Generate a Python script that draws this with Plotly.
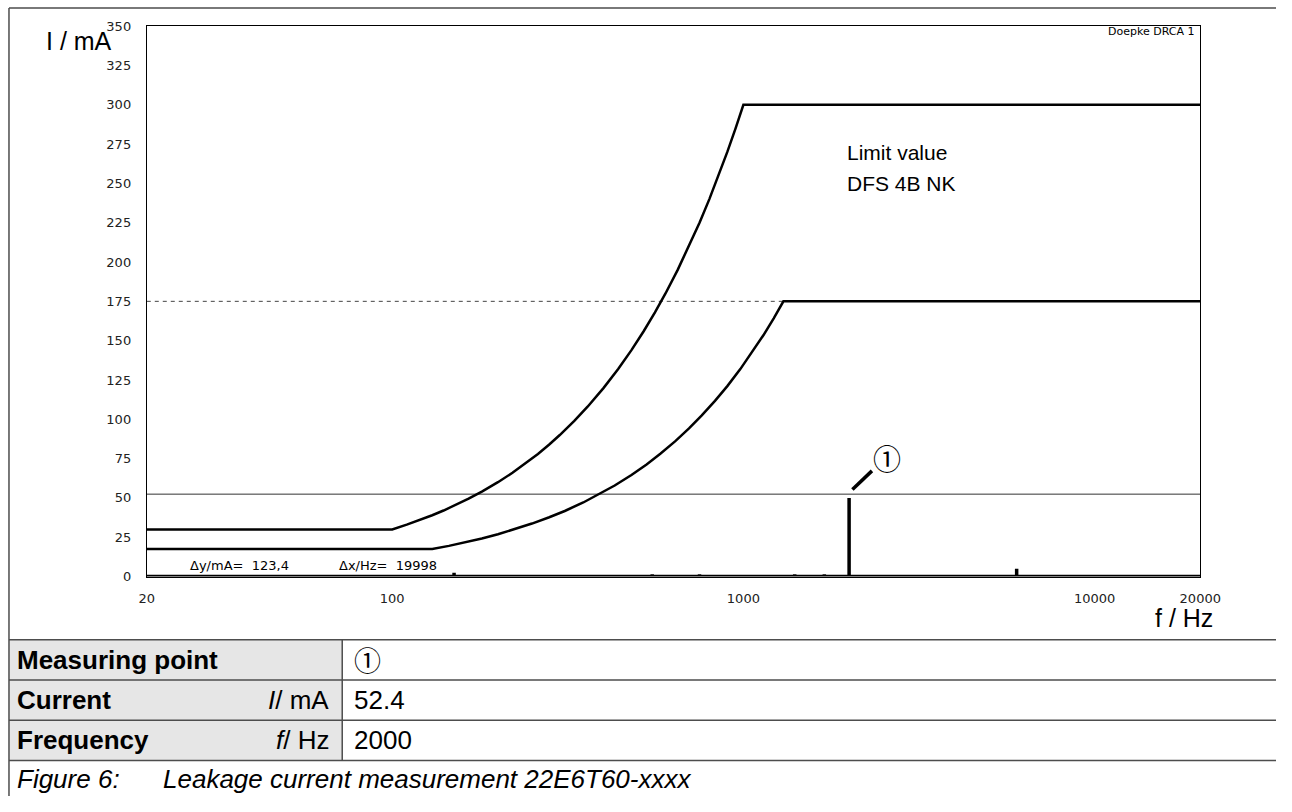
import math
import plotly.graph_objects as go

# page (window) size; the page keeps its default 8px body margin, so the figure is
# made 16px smaller and every position below is given in page pixels.
PW, PH = 1292, 812
OFF = 8
W, H = PW - 2 * OFF, PH - 2 * OFF

# ---------------- data ----------------
x_ticks = [20, 100, 1000, 10000, 20000]
y_ticks = [0, 25, 50, 75, 100, 125, 150, 175, 200, 225, 250, 275, 300, 325, 350]

limit_upper_f = [20, 100, 110, 120, 130, 140, 150, 165, 180, 200, 220, 240, 260, 280, 300, 330, 360, 400,
                 440, 480, 520, 560, 600, 650, 700, 750, 800, 850, 900, 950, 1000, 20000]
limit_upper_i = [30, 30, 33, 36, 39, 42, 45, 49.5, 54, 60, 66, 72, 78, 84, 90, 99, 108, 120,
                 132, 144, 156, 168, 180, 195, 210, 225, 240, 255, 270, 285, 300, 300]

limit_lower_f = [20, 130, 145, 160, 180, 200, 225, 250, 280, 310, 350, 390, 430, 480, 530, 580, 640, 700,
                 760, 830, 900, 980, 1060, 1140, 1220, 1300, 20000]
limit_lower_i = [17.5, 17.5, 19.5, 21.5, 24.2, 26.9, 30.3, 33.7, 37.7, 41.7, 47.1, 52.5, 57.9, 64.6, 71.3, 78.1, 86.1, 94.2,
                 102.3, 111.7, 121.1, 131.9, 142.7, 153.4, 164.2, 175, 175]

ref175_f = [20, 1300]
ref175_i = [175, 175]

cursor_f = [20, 20000]
cursor_i = [52.4, 52.4]

peak_f = [50, 150, 550, 750, 1400, 1700, 2000, 6000, 10000]
peak_i = [1, 2.5, 1.5, 1.5, 1.5, 1.5, 50, 5, 1]

leader_f = [2044, 2323]
leader_i = [55.3, 67.2]
marker_label_f = 2560
marker_label_i = 75.3

table_labels = ["Measuring point", "Current", "Frequency"]
table_units = ["", "<i>I</i>/ mA", "<i>f</i>/ Hz"]
table_values = ["\u2460", "52.4", "2000"]
caption_num = "Figure 6:"
caption_text = "Leakage current measurement 22E6T60-xxxx"

# ---------------- helpers (page pixel -> paper fraction) ----------------
def X(px):
    return (px - OFF) / W

def Y(py):
    return 1 - (py - OFF) / H

# spectrum path: baseline with vertical spikes
spec_f = [20]
spec_i = [0]
for f, v in zip(peak_f, peak_i):
    spec_f += [f, f, f]
    spec_i += [0, v, 0]
spec_f.append(20000)
spec_i.append(0)

fig = go.Figure()
line_col = "#000000"
fig.add_trace(go.Scatter(x=ref175_f, y=ref175_i, mode="lines",
                         line=dict(color="#444444", width=1, dash="4px,4px"), hoverinfo="skip"))
fig.add_trace(go.Scatter(x=cursor_f, y=cursor_i, mode="lines",
                         line=dict(color="#333333", width=1), hoverinfo="skip"))
fig.add_trace(go.Scatter(x=limit_upper_f, y=limit_upper_i, mode="lines",
                         line=dict(color=line_col, width=2.5), hoverinfo="skip"))
fig.add_trace(go.Scatter(x=limit_lower_f, y=limit_lower_i, mode="lines",
                         line=dict(color=line_col, width=2.5), hoverinfo="skip"))
fig.add_trace(go.Scatter(x=spec_f, y=spec_i, mode="lines",
                         line=dict(color=line_col, width=3.5), hoverinfo="skip"))
fig.add_trace(go.Scatter(x=leader_f, y=leader_i, mode="lines",
                         line=dict(color=line_col, width=3.5), hoverinfo="skip"))

tick_font = dict(family="DejaVu Sans", size=13, color="#222222")

fig.update_xaxes(type="log", range=[math.log10(20), math.log10(20000)],
                 domain=[X(150), X(1228)],
                 tickvals=x_ticks, ticktext=[str(v) for v in x_ticks],
                 showgrid=False, zeroline=False, showline=True, mirror=True,
                 linecolor="#000000", linewidth=1, ticks="", tickfont=tick_font,
                 ticklabelstandoff=10)
fig.update_yaxes(range=[0, 350], domain=[Y(588.5), Y(27.5)],
                 tickvals=y_ticks, ticktext=[str(v) for v in y_ticks],
                 showgrid=False, zeroline=False, showline=True, mirror=True,
                 linecolor="#000000", linewidth=1, ticks="", tickfont=tick_font,
                 ticklabelstandoff=12)

shapes = []
border = dict(color="#4d4d4d", width=1.5)
# grey label column of the table
shapes.append(dict(type="rect", xref="paper", yref="paper", x0=X(9), x1=X(350), y0=Y(776), y1=Y(653),
                   fillcolor="#e6e6e6", line=dict(width=0), layer="below"))
# outer frame (left and top edges just inside the figure)
shapes.append(dict(type="line", xref="paper", yref="paper", x0=X(9), x1=X(9), y0=Y(9), y1=Y(830),
                   line=border))
shapes.append(dict(type="line", xref="paper", yref="paper", x0=X(9), x1=X(1310), y0=Y(9), y1=Y(9),
                   line=border))
for yy in [653, 694, 735, 776]:
    shapes.append(dict(type="line", xref="paper", yref="paper", x0=X(9), x1=X(1310), y0=Y(yy), y1=Y(yy),
                       line=border))
shapes.append(dict(type="line", xref="paper", yref="paper", x0=X(350), x1=X(350), y0=Y(653), y1=Y(776),
                   line=border))

ann = []
big = "Liberation Sans"
def txt(s, px, py, size, fam=big, xa="left"):
    return dict(text=s, x=X(px), y=Y(py), xref="paper", yref="paper", xanchor=xa, yanchor="middle",
                showarrow=False, font=dict(family=fam, size=size, color="#000"))

ann.append(txt("I / mA", 45, 43, 25))
ann.append(txt("f / Hz", 1243, 631, 25, xa="right"))
ann.append(txt("Doepke DRCA 1", 1224, 33, 11, fam="DejaVu Sans", xa="right"))
ann.append(txt("Limit value", 864, 156, 21))
ann.append(txt("DFS 4B NK", 864, 188, 21))
ann.append(txt("\u0394y/mA=  123,4", 192, 577, 13, fam="DejaVu Sans"))
ann.append(txt("\u0394x/Hz=  19998", 345, 577, 13, fam="DejaVu Sans"))
ann.append(dict(text="\u2460", x=math.log10(marker_label_f), y=marker_label_i, xref="x", yref="y",
                xanchor="center", yanchor="middle", showarrow=False,
                font=dict(family="Noto Sans CJK JP", size=28, color="#000")))

row_centers = [673.5, 714.5, 755.5]
for lab, unit, val, yc in zip(table_labels, table_units, table_values, row_centers):
    ann.append(txt("<b>%s</b>" % lab, 15, yc, 26))
    if unit:
        ann.append(txt(unit, 338, yc, 26, xa="right"))
    if val == "\u2460":
        ann.append(txt(val, 360, yc, 27, fam="Noto Sans CJK JP"))
    else:
        ann.append(txt(val, 360, yc, 26))
ann.append(txt("<i>%s</i>" % caption_num, 15, 795, 26))
ann.append(txt("<i>%s</i>" % caption_text, 165, 795, 26))

fig.update_layout(width=W, height=H, autosize=False, margin=dict(l=0, r=0, t=0, b=0, pad=0),
                  paper_bgcolor="white", plot_bgcolor="white", showlegend=False,
                  shapes=shapes, annotations=ann)

fig.write_html("out.html", config={"displayModeBar": False})
